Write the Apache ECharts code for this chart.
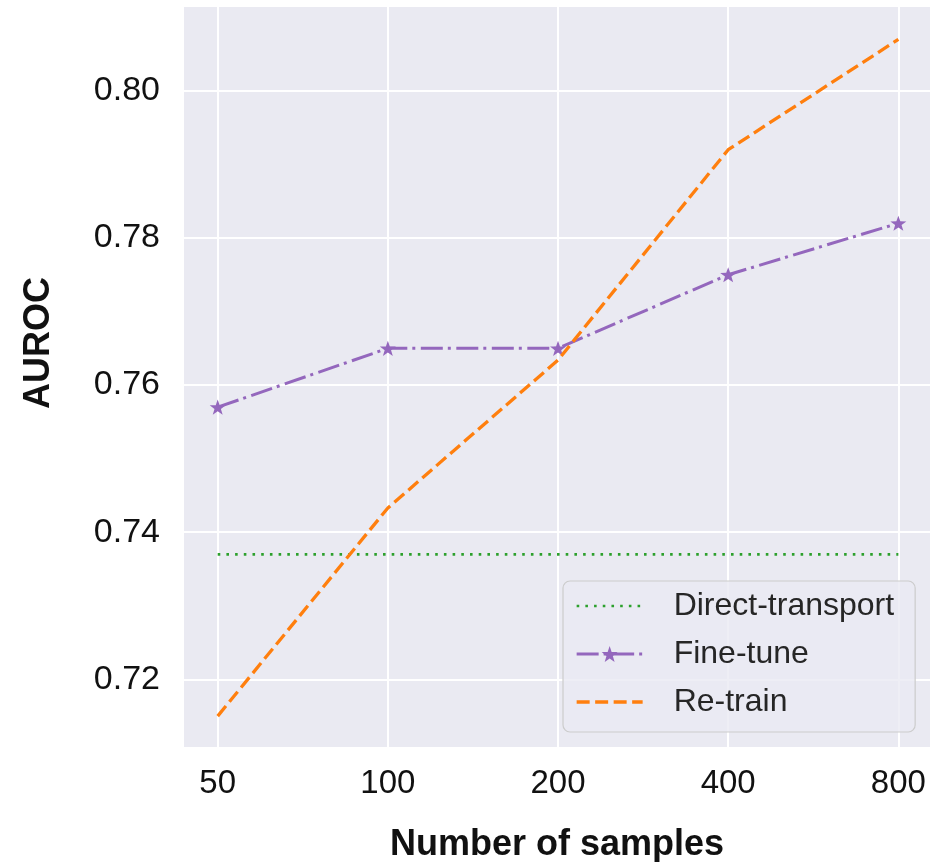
<!DOCTYPE html>
<html>
<head>
<meta charset="utf-8">
<script src="https://cdn.jsdelivr.net/npm/echarts@6/dist/echarts.min.js"></script>
<style>
html,body{margin:0;padding:0;background:#fff;}
#chart{width:941px;height:862px;}
</style>
</head>
<body>
<div id="chart"></div>
<script>
const categories = ['50', '100', '200', '400', '800'];
const directTransport = [0.737, 0.737, 0.737, 0.737, 0.737];
const fineTune = [0.757, 0.765, 0.765, 0.775, 0.782];
const reTrain = [0.715, 0.7433, 0.7634, 0.792, 0.807];
const yTicks = [0.72, 0.74, 0.76, 0.78, 0.80];

const idx = categories.map((c, i) => i);
const pairs = arr => arr.map((v, i) => [i, v]);

const chart = echarts.init(document.getElementById('chart'), null, {renderer: 'canvas'});
const font = 'Liberation Sans, Arial, sans-serif';
const starPath = 'path://M0,-10 L2.35,-3.24 L9.51,-3.09 L3.8,1.24 L5.88,8.09 L0,4 L-5.88,8.09 L-3.8,1.24 L-9.51,-3.09 L-2.35,-3.24 Z';
chart.setOption({
  animation: false,
  backgroundColor: '#ffffff',
  grid: {left: 184, right: 11, top: 7, bottom: 115, show: true, backgroundColor: '#EAEAF2', borderWidth: 0,
         containLabel: false, outerBoundsMode: 'none'},
  xAxis: {
    type: 'value', min: -0.198, max: 4.186,
    axisLine: {show: false},
    axisTick: {show: false, customValues: idx},
    axisLabel: {customValues: idx, formatter: v => categories[Math.round(v)], fontSize: 33, color: '#111', fontFamily: font, margin: 20},
    splitLine: {show: true, lineStyle: {color: '#ffffff', width: 2}},
    name: 'Number of samples', nameLocation: 'middle', nameGap: 80,
    nameTextStyle: {fontSize: 36, fontWeight: 'bold', color: '#111', fontFamily: font}
  },
  yAxis: {
    type: 'value', min: 0.7108, max: 0.8114,
    axisLine: {show: false},
    axisTick: {show: false, customValues: yTicks},
    axisLabel: {customValues: yTicks, formatter: v => v.toFixed(2), fontSize: 34, color: '#111', fontFamily: font, margin: 24},
    splitLine: {show: true, lineStyle: {color: '#ffffff', width: 2}}
  },
  graphic: [{
    type: 'text', rotation: Math.PI / 2, x: 39, y: 343,
    style: {text: 'AUROC', fontSize: 36, fontWeight: 'bold', fill: '#111', fontFamily: font, align: 'center', verticalAlign: 'middle'}
  }],
  legend: {
    left: 563, top: 581, orient: 'vertical',
    backgroundColor: 'rgba(234,234,242,0.8)', borderColor: '#cccccc', borderWidth: 1.2, borderRadius: 7,
    padding: [8, 21, 13, 12],
    itemWidth: 66, itemHeight: 20, itemGap: 14,
    textStyle: {fontSize: 32, color: '#262626', fontFamily: font, padding: [0, 0, 0, 26], lineHeight: 34},
    data: [
      {name: 'Direct-transport', itemStyle: {opacity: 0}, lineStyle: {width: 2.7}},
      {name: 'Fine-tune', lineStyle: {width: 3}},
      {name: 'Re-train', itemStyle: {opacity: 0}, lineStyle: {width: 3.3}}
    ]
  },
  series: [
    {
      name: 'Direct-transport', type: 'line', data: pairs(directTransport), symbol: 'none',
      lineStyle: {color: '#2CA02C', width: 2.7, type: [2.6, 6.1], cap: 'butt'},
      itemStyle: {color: '#2CA02C'}, z: 3
    },
    {
      name: 'Fine-tune', type: 'line', data: pairs(fineTune),
      symbol: starPath, symbolSize: 16, symbolKeepAspect: true,
      lineStyle: {color: '#9467BD', width: 3, type: [22, 5, 3, 5.5]},
      itemStyle: {color: '#9467BD'}, z: 4
    },
    {
      name: 'Re-train', type: 'line', data: pairs(reTrain), symbol: 'none',
      lineStyle: {color: '#FF7F0E', width: 3.3, type: [13, 5.5]},
      itemStyle: {color: '#FF7F0E'}, z: 5
    }
  ]
});
</script>
</body>
</html>
